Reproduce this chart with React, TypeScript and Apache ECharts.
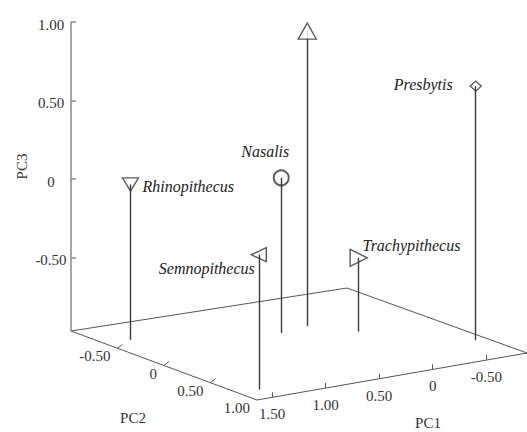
import React, { useEffect, useRef } from "react";
import * as echarts from "echarts";

// ---- data ----
const species = ["Rhinopithecus", "Nasalis", "", "Presbytis", "Semnopithecus", "Trachypithecus"];
const pc1 = [1.41, 0.33, 0.04, -0.78, 1.45, -0.19];
const pc2 = [-0.63, -0.27, -0.33, 0.55, 0.8, -0.04];
const pc3 = [0.02, 0.02, 0.91, 0.65, -0.11, -0.5];

const pc1Ticks = [1.5, 1.0, 0.5, 0, -0.5];
const pc2Ticks = [-0.5, 0, 0.5, 1.0];
const pc3Ticks = [1.0, 0.5, 0, -0.5];

const PC1_RANGE = [-0.88, 1.64];
const PC2_RANGE = [-1, 1];
const PC3_RANGE = [-0.97, 1.0];

// ---- layout of the 3D box (screen units of the hidden cartesian grid) ----
const W = 527;
const H = 432;
const CORNER_A = [71, 331]; // PC1 max, PC2 min
const CORNER_B = [257, 400]; // PC1 max, PC2 max
const CORNER_C = [527, 353]; // PC1 min, PC2 max
const CORNER_D = [347, 288]; // PC1 min, PC2 min
const VERT = 309;

const markerStyle = [
  { symbol: "triangle", size: [16, 13], rotate: 180, fill: "rgba(0,0,0,0)", bw: 1.4, lx: 12, ly: 2, align: "left" },
  { symbol: "circle", size: 15, rotate: 0, fill: "rgba(0,0,0,0)", bw: 2, lx: -16, ly: -26, align: "center" },
  { symbol: "triangle", size: [18, 16], rotate: 0, fill: "#fff", bw: 1.4, lx: 0, ly: 0, align: "left" },
  { symbol: "diamond", size: [11, 10], rotate: 0, fill: "rgba(0,0,0,0)", bw: 1.4, lx: -23, ly: -2, align: "right" },
  { symbol: "triangle", size: [14, 15], rotate: 90, fill: "rgba(0,0,0,0)", bw: 1.4, lx: -4, ly: 14, align: "right" },
  { symbol: "triangle", size: [17, 17], rotate: -90, fill: "rgba(0,0,0,0)", bw: 1.4, lx: 4, ly: -12, align: "left" },
];

const SERIF = "Liberation Serif";

function project(p1: number, p2: number, p3: number): number[] {
  const t1 = (PC1_RANGE[1] - p1) / (PC1_RANGE[1] - PC1_RANGE[0]);
  const t2 = (p2 - PC2_RANGE[0]) / (PC2_RANGE[1] - PC2_RANGE[0]);
  const t3 = (p3 - PC3_RANGE[0]) / (PC3_RANGE[1] - PC3_RANGE[0]);
  const a = (1 - t1) * (1 - t2);
  const b = (1 - t1) * t2;
  const c = t1 * t2;
  const d = t1 * (1 - t2);
  const x = CORNER_A[0] * a + CORNER_B[0] * b + CORNER_C[0] * c + CORNER_D[0] * d;
  const y = CORNER_A[1] * a + CORNER_B[1] * b + CORNER_C[1] * c + CORNER_D[1] * d - t3 * VERT;
  return [x, y];
}

const fmt = (v: number) => (v === 0 ? "0" : v.toFixed(2));

export default function App() {
  const ref = useRef<HTMLDivElement>(null);
  useEffect(() => {
    if (!ref.current) return;
    const chart = echarts.init(ref.current, undefined, { renderer: "svg" });

    const mx = PC1_RANGE[1], mn1 = PC1_RANGE[0];
    const m2 = PC2_RANGE[0], x2 = PC2_RANGE[1];
    const z0 = PC3_RANGE[0], z1 = PC3_RANGE[1];
    const a = project(mx, m2, z0);
    const b = project(mx, x2, z0);
    const c = project(mn1, x2, z0);
    const d = project(mn1, m2, z0);
    const top = project(mx, m2, z1);

    const frame: any[] = [
      { coords: [a, d] },
      { coords: [d, c] },
      { coords: [a, b] },
      { coords: [b, c] },
    ];
    pc2Ticks.forEach((v) => {
      if (v >= PC2_RANGE[1]) return;
      const p = project(mx, v, z0);
      frame.push({ coords: [p, [p[0] + 5, p[1] - 4]] });
    });
    pc1Ticks.forEach((v) => {
      const p = project(v, x2, z0);
      frame.push({ coords: [p, [p[0], p[1] - 5]] });
    });
    const vAxis: any[] = [{ coords: [a, top] }];
    pc3Ticks.forEach((v) => {
      const p = project(mx, m2, v);
      vAxis.push({ coords: [p, [p[0] + 5, p[1]]] });
    });

    const drops = species.map((_, i) => ({
      coords: [project(pc1[i], pc2[i], z0), project(pc1[i], pc2[i], pc3[i])],
    }));

    const markers = species.map((s, i) => {
      const ms = markerStyle[i];
      return {
        name: s,
        value: project(pc1[i], pc2[i], pc3[i]),
        symbol: ms.symbol,
        symbolSize: ms.size,
        symbolRotate: ms.rotate,
        itemStyle: { color: ms.fill, borderColor: "#333", borderWidth: ms.bw },
      };
    });

    // ---- texts ----
    const texts: any[] = [];
    const addText = (p: number[], t: string, align: string, size: number, italic = false, rotation?: number) => {
      const style: any = {
        text: t,
        fontFamily: SERIF,
        fontSize: size,
        fill: italic ? "#222" : "#333",
        align,
        verticalAlign: "middle",
      };
      if (italic) style.fontStyle = "italic";
      const el: any = { type: "text", x: p[0], y: p[1], style };
      if (rotation) el.rotation = rotation;
      texts.push(el);
    };
    pc3Ticks.forEach((v) => {
      const p = project(mx, m2, v);
      addText([p[0] - 20, p[1] + 3], fmt(v), "center", 15);
    });
    pc2Ticks.forEach((v) => {
      const p = project(mx, v, z0);
      addText([p[0] - 7, p[1] + 8], fmt(v), "right", 15);
    });
    pc1Ticks.forEach((v) => {
      const p = project(v, x2, z0);
      addText([p[0], p[1] + 17], fmt(v), "center", 15);
    });
    const midV = project(mx, m2, (z0 + z1) / 2);
    addText([a[0] - 49, midV[1] - 10], "PC3", "center", 15, false, Math.PI / 2);
    addText([b[0] - 124, b[1] + 18], "PC2", "center", 15);
    addText([b[0] + 171, b[1] + 23], "PC1", "center", 15);
    species.forEach((s, i) => {
      if (!s) return;
      const p = project(pc1[i], pc2[i], pc3[i]);
      const ms = markerStyle[i];
      addText([p[0] + ms.lx, p[1] + ms.ly], s, ms.align, 16, true);
    });

    chart.setOption({
      animation: false,
      grid: { left: 0, top: 0, right: 0, bottom: 0, containLabel: false },
      xAxis: { type: "value", min: 0, max: W, show: false },
      yAxis: { type: "value", min: 0, max: H, inverse: true, show: false },
      series: [
        {
          type: "lines",
          name: "floor",
          coordinateSystem: "cartesian2d",
          silent: true,
          z: 1,
          lineStyle: { color: "#555", width: 1, opacity: 1 },
          data: frame,
        },
        {
          type: "lines",
          name: "PC3 axis",
          coordinateSystem: "cartesian2d",
          silent: true,
          z: 1,
          lineStyle: { color: "#888", width: 1.5, opacity: 1 },
          data: vAxis,
        },
        {
          type: "lines",
          name: "drop lines",
          coordinateSystem: "cartesian2d",
          silent: true,
          z: 2,
          lineStyle: { color: "#3a3a3a", width: 1.4, opacity: 1 },
          data: drops,
        },
        {
          type: "scatter",
          name: "genera",
          coordinateSystem: "cartesian2d",
          silent: true,
          z: 3,
          data: markers,
        },
      ],
      graphic: texts,
    });

    return () => chart.dispose();
  }, []);
  return (
    <div
      ref={ref}
      style={{ position: "absolute", left: 0, top: 0, width: W, height: H, background: "#fff" }}
    />
  );
}
